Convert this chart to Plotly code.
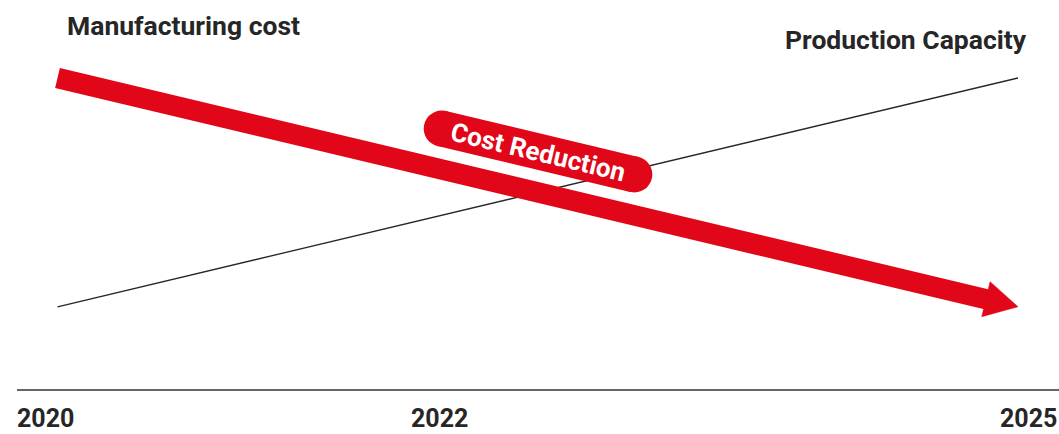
import plotly.graph_objects as go
import math

# ---- data ----
years = [2020, 2025]
tick_years = [2020, 2022, 2025]
tick_labels = ["2020", "2022", "2025"]
manufacturing_cost = [75, 20]
production_capacity = [20, 75]

series_title_cost = "Manufacturing cost"
series_title_capacity = "Production Capacity"
badge_text = "Cost Reduction"

# ---- layout constants ----
W, H = 1059, 434
PX_PER_YEAR = 192.1
PX_2020 = 57.5
PX_PER_UNIT = 4.16
PY_ZERO = 390
X_RANGE = [2020 - PX_2020 / PX_PER_YEAR, 2020 + (W - PX_2020) / PX_PER_YEAR]
Y_RANGE = [-(H - PY_ZERO) / PX_PER_UNIT, PY_ZERO / PX_PER_UNIT]
RED = "#E10718"
DARK = "#262626"
FONT = "Roboto"


def to_px(x, y):
    px = (x - X_RANGE[0]) / (X_RANGE[1] - X_RANGE[0]) * W
    py = H - (y - Y_RANGE[0]) / (Y_RANGE[1] - Y_RANGE[0]) * H
    return px, py


def to_data(px, py):
    x = X_RANGE[0] + px / W * (X_RANGE[1] - X_RANGE[0])
    y = Y_RANGE[0] + (H - py) / H * (Y_RANGE[1] - Y_RANGE[0])
    return x, y


def paper_x(px):
    return px / W


def paper_y(py):
    return 1 - py / H


fig = go.Figure()

# production capacity thin line (beneath arrow)
fig.add_trace(go.Scatter(x=years, y=production_capacity, mode="lines",
                         line=dict(color=DARK, width=1.3), hoverinfo="skip"))

# manufacturing cost arrow: shaft + head computed from data endpoints
sx, sy = to_px(years[0], manufacturing_cost[0])
ex, ey = to_px(years[-1], manufacturing_cost[-1])
dx, dy = ex - sx, ey - sy
L = math.hypot(dx, dy)
ux, uy = dx / L, dy / L
nx, ny = -uy, ux
head_len, head_half = 33, 18
bx, by = ex - ux * head_len, ey - uy * head_len
shaft_end = to_data(bx + ux * 3, by + uy * 3)
fig.add_trace(go.Scatter(x=[years[0], shaft_end[0]],
                         y=[manufacturing_cost[0], shaft_end[1]],
                         mode="lines", line=dict(color=RED, width=20.5),
                         hoverinfo="skip"))
tri = [to_data(ex, ey),
       to_data(bx + nx * head_half, by + ny * head_half),
       to_data(bx - nx * head_half, by - ny * head_half),
       to_data(ex, ey)]
fig.add_trace(go.Scatter(x=[p[0] for p in tri], y=[p[1] for p in tri],
                         mode="lines", fill="toself", fillcolor=RED,
                         line=dict(color=RED, width=0.5), hoverinfo="skip"))

# badge (pill) along the arrow direction
angle = math.degrees(math.atan2(uy, ux))
cx, cy = 538, 151.5
half = 99
p1 = to_data(cx - ux * half, cy - uy * half)
p2 = to_data(cx + ux * half, cy + uy * half)
fig.add_trace(go.Scatter(x=[p1[0], p2[0]], y=[p1[1], p2[1]],
                         mode="lines+markers",
                         line=dict(color=RED, width=36),
                         marker=dict(color=RED, size=36, line=dict(width=0)),
                         hoverinfo="skip"))
bc = to_data(cx, cy)
fig.add_annotation(x=bc[0], y=bc[1], xref="x", yref="y", text="<b>" + badge_text + "</b>",
                   showarrow=False, textangle=angle,
                   font=dict(family=FONT, size=26, color="white"))

# series titles
fig.add_annotation(x=paper_x(65), y=paper_y(25), xref="paper", yref="paper",
                   text="<b>" + series_title_cost + "</b>", showarrow=False,
                   xanchor="left", yanchor="middle",
                   font=dict(family=FONT, size=26.5, color=DARK))
fig.add_annotation(x=paper_x(1029), y=paper_y(39), xref="paper", yref="paper",
                   text="<b>" + series_title_capacity + "</b>", showarrow=False,
                   xanchor="right", yanchor="middle",
                   font=dict(family=FONT, size=26.5, color=DARK))

# baseline
fig.add_shape(type="line", xref="paper", yref="y", x0=paper_x(17), x1=1, y0=0, y1=0,
              line=dict(color="#333333", width=1.6))

# year labels, offset from their data positions as in the reference
shifts = {2020: -12.5, 2022: -2.7, 2025: 10}
for yr, lab in zip(tick_years, tick_labels):
    fig.add_annotation(x=yr, y=paper_y(418), xref="x", yref="paper",
                       text="<b>" + lab + "</b>", showarrow=False,
                       xanchor="center", yanchor="middle", xshift=shifts[yr],
                       font=dict(family=FONT, size=25, color=DARK))

fig.update_layout(
    width=W, height=H, margin=dict(l=0, r=0, t=0, b=0),
    paper_bgcolor="white", plot_bgcolor="white", showlegend=False,
    xaxis=dict(range=X_RANGE, visible=False, fixedrange=True),
    yaxis=dict(range=Y_RANGE, visible=False, fixedrange=True),
)

fig.write_html(
    "out.html",
    config={"displayModeBar": False},
    post_script=(
        "document.body.style.margin='0';"
        "document.body.style.overflow='hidden';"
        "document.documentElement.style.overflow='hidden';"
    ),
)
